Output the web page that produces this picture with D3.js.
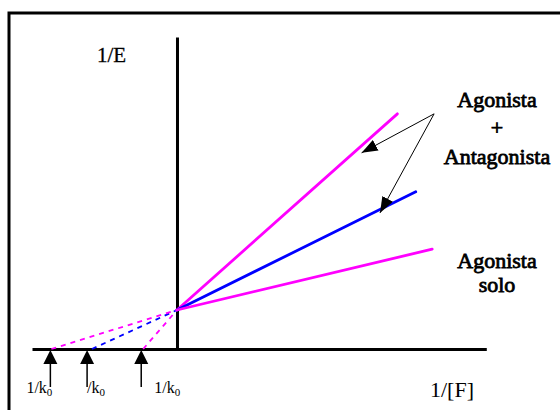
<!DOCTYPE html>
<html>
<head>
<meta charset="utf-8">
<script src="https://cdn.jsdelivr.net/npm/d3@7"></script>
<style>
  body { margin: 0; background: #fff; }
  svg { display: block; }
</style>
</head>
<body>
<svg id="chart" width="560" height="410"></svg>
<script>
// Lineweaver-Burk style lines: 1/E against 1/[F]
// solid part ends at (seriesEndX, seriesEndY), dashed part goes back to the x intercept
const seriesNames = ['Agonista + Antagonista (dosis alta)', 'Agonista + Antagonista', 'Agonista solo']
const seriesColors = ['#ff00ff', '#0000ff', '#ff00ff']
const seriesEndX = [2.28, 2.47, 2.64]
const seriesEndY = [6.03, 4.03, 2.56]
const seriesInterceptX = [-0.35, -0.88, -1.30]
const commonY = 1 // all three meet on the 1/E axis

// arrows under the x axis
const kTicks = [-1.31, -0.93, -0.37]
const kLabels = ['1/k', '/k', '1/k']
const kSub = '0'

// annotation arrows, from label corner to each line
const noteFrom = [2.66, 6.03]
const noteToX = [1.91, 2.10]
const noteToY = [5.03, 3.49]

const SERIF = '"Liberation Serif", "Times New Roman", Times, serif'

const svg = d3.select('#chart')

// outer frame (open to the right / bottom, like the clipped original)
svg.append('rect')
  .attr('x', 9).attr('y', 13)
  .attr('width', 700).attr('height', 600)
  .attr('fill', 'none').attr('stroke', '#000').attr('stroke-width', 3)

const xScale = d3.scaleLinear().domain([-1.5, 3.2]).range([32, 486.3])
const yScale = d3.scaleLinear().domain([0, 8]).range([349, 37])

const x0 = xScale(0)
const y0 = yScale(0)

// axes without ticks, just the lines
const xAxis = svg.append('g')
  .attr('transform', 'translate(0,' + y0 + ')')
  .call(d3.axisBottom(xScale).tickValues([]).tickSizeOuter(0))
const yAxis = svg.append('g')
  .attr('transform', 'translate(' + x0 + ',0)')
  .call(d3.axisLeft(yScale).tickValues([]).tickSizeOuter(0))
xAxis.select('.domain').attr('stroke', '#000').attr('stroke-width', 3)
yAxis.select('.domain').attr('stroke', '#000').attr('stroke-width', 3)

const line = d3.line().x(d => xScale(d[0])).y(d => yScale(d[1]))

const series = seriesNames.map((name, i) => ({
  name: name,
  color: seriesColors[i],
  solid: [[0, commonY], [seriesEndX[i], seriesEndY[i]]],
  dashed: [[seriesInterceptX[i], 0], [0, commonY]]
}))

svg.append('g').selectAll('path')
  .data(series)
  .join('path')
  .attr('d', d => line(d.dashed))
  .attr('fill', 'none')
  .attr('stroke', d => d.color)
  .attr('stroke-width', 1.8)
  .attr('stroke-dasharray', '5,5')

svg.append('g').selectAll('path')
  .data(series)
  .join('path')
  .attr('d', d => line(d.solid))
  .attr('fill', 'none')
  .attr('stroke', d => d.color)
  .attr('stroke-width', 2.8)
  .attr('stroke-linecap', 'round')

// k arrows under the axis
const kg = svg.append('g').selectAll('g')
  .data(kTicks)
  .join('g')
  .attr('transform', d => 'translate(' + xScale(d) + ',' + (y0 + 1) + ')')
kg.append('line')
  .attr('x1', 0).attr('x2', 0).attr('y1', 8).attr('y2', 37)
  .attr('stroke', '#000').attr('stroke-width', 1.5)
kg.append('path')
  .attr('d', 'M0,0 L7,14 L-7,14 Z')
  .attr('fill', '#000')

// labels: first ends at the arrow, the other two start right of it
const kLabelDx = [2, 0, 13]
const kLabelAnchor = ['end', 'start', 'start']
const kt = svg.append('g').selectAll('text')
  .data(kLabels)
  .join('text')
  .attr('x', (d, i) => xScale(kTicks[i]) + kLabelDx[i])
  .attr('y', 393)
  .attr('text-anchor', (d, i) => kLabelAnchor[i])
  .style('font-family', SERIF)
  .style('font-size', '16px')
kt.append('tspan').text(d => d)
kt.append('tspan')
  .attr('dy', 3)
  .style('font-size', '11px')
  .text(kSub)

// axis titles
svg.append('text')
  .attr('x', 97).attr('y', 62)
  .style('font-family', SERIF)
  .style('font-size', '21px')
  .attr('stroke', '#000').attr('stroke-width', 0.3)
  .text('1/E')
svg.append('text')
  .attr('x', 430).attr('y', 397)
  .style('font-family', SERIF)
  .style('font-size', '22px')
  .text('1/[F]')

// annotation arrows
svg.append('defs').append('marker')
  .attr('id', 'head')
  .attr('viewBox', '0 0 16 12')
  .attr('refX', 16).attr('refY', 6)
  .attr('markerWidth', 16).attr('markerHeight', 12)
  .attr('markerUnits', 'userSpaceOnUse')
  .attr('orient', 'auto')
  .append('path')
  .attr('d', 'M0,0 L16,6 L0,12 Z')
  .attr('fill', '#000')

svg.append('g').selectAll('line')
  .data(noteToX)
  .join('line')
  .attr('x1', xScale(noteFrom[0])).attr('y1', yScale(noteFrom[1]))
  .attr('x2', d => xScale(d))
  .attr('y2', (d, i) => yScale(noteToY[i]))
  .attr('stroke', '#000')
  .attr('stroke-width', 1)
  .attr('marker-end', 'url(#head)')

// right hand labels (bold look done with a thin stroke on the serif face)
const notes = [
  { text: 'Agonista', y: 107 },
  { text: '+', y: 135 },
  { text: 'Antagonista', y: 164 },
  { text: 'Agonista', y: 268 },
  { text: 'solo', y: 292 }
]
svg.append('g').selectAll('text')
  .data(notes)
  .join('text')
  .attr('x', 497)
  .attr('y', d => d.y)
  .attr('text-anchor', 'middle')
  .style('font-family', SERIF)
  .style('font-size', '22px')
  .attr('stroke', '#000')
  .attr('stroke-width', 0.8)
  .text(d => d.text)
</script>
</body>
</html>
